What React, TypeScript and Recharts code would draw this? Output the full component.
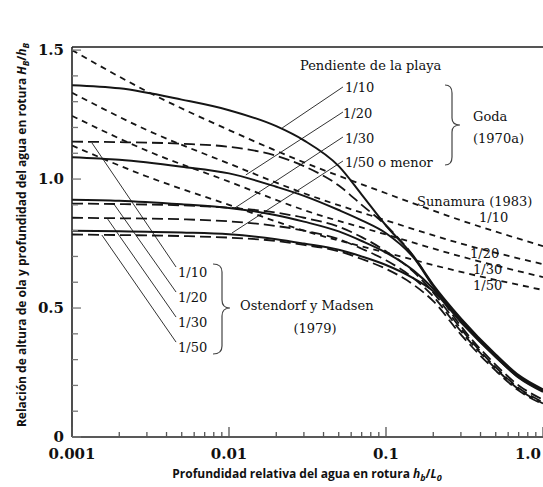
import { LineChart, Line, XAxis, YAxis, ReferenceLine } from 'recharts';

// eje x logarítmico h_b/L_0, eje y H_B/h_B
const X_TICKS = [
  0.001, 0.002, 0.003, 0.004, 0.005, 0.006, 0.007, 0.008, 0.009,
  0.01, 0.02, 0.03, 0.04, 0.05, 0.06, 0.07, 0.08, 0.09,
  0.1, 0.2, 0.3, 0.4, 0.5, 0.6, 0.7, 0.8, 0.9, 1.0,
];
const X_LABELS: Record<string, string> = { '0.001': '0.001', '0.01': '0.01', '0.1': '0.1', '1': '1.0' };
const Y_TICKS = [0, 0.1, 0.2, 0.3, 0.4, 0.5, 0.6, 0.7, 0.8, 0.9, 1.0, 1.1, 1.2, 1.3, 1.4, 1.5];
const Y_LABELS: Record<string, string> = { '0': '0', '0.5': '0.5', '1': '1.0', '1.5': '1.5' };
const Y_MAX = 1.512;

// Goda (1970a) — líneas continuas
const GODA_X = [0.001, 0.002, 0.005, 0.01, 0.02, 0.03, 0.05, 0.07, 0.1, 0.15, 0.2, 0.3, 0.5, 0.7, 1.0];
const GODA_10 = [1.364, 1.352, 1.308, 1.267, 1.205, 1.15, 1.05, 0.94, 0.82, 0.70, 0.59, 0.46, 0.32, 0.24, 0.185];
const GODA_20 = [1.085, 1.075, 1.048, 1.022, 0.97, 0.935, 0.88, 0.84, 0.79, 0.695, 0.585, 0.455, 0.315, 0.235, 0.18];
const GODA_30 = [0.92, 0.916, 0.902, 0.888, 0.86, 0.835, 0.797, 0.76, 0.715, 0.645, 0.575, 0.45, 0.31, 0.232, 0.178];
const GODA_50 = [0.80, 0.798, 0.793, 0.786, 0.767, 0.75, 0.726, 0.70, 0.667, 0.615, 0.565, 0.445, 0.31, 0.23, 0.175];

// Ostendorf y Madsen (1979) — trazo largo
const OST_X = GODA_X;
const OST_10 = [1.145, 1.143, 1.137, 1.125, 1.09, 1.05, 0.975, 0.90, 0.82, 0.70, 0.585, 0.43, 0.28, 0.20, 0.145];
const OST_20 = [0.905, 0.903, 0.898, 0.889, 0.87, 0.85, 0.815, 0.775, 0.72, 0.64, 0.56, 0.42, 0.27, 0.19, 0.135];
const OST_30 = [0.85, 0.848, 0.844, 0.836, 0.818, 0.80, 0.767, 0.73, 0.685, 0.615, 0.545, 0.41, 0.265, 0.185, 0.13];
const OST_50 = [0.785, 0.783, 0.779, 0.773, 0.76, 0.745, 0.72, 0.69, 0.652, 0.59, 0.527, 0.397, 0.257, 0.18, 0.127];

// Sunamura (1983) — trazo corto
const SUN_X = [0.001, 0.003, 0.01, 0.03, 0.1, 0.3, 1.0];
const SUN_10 = [1.50, 1.34, 1.19, 1.065, 0.945, 0.84, 0.74];
const SUN_20 = [1.335, 1.19, 1.06, 0.945, 0.84, 0.75, 0.67];
const SUN_30 = [1.245, 1.11, 0.99, 0.88, 0.785, 0.70, 0.62];
const SUN_50 = [1.13, 1.01, 0.90, 0.80, 0.715, 0.64, 0.57];

// líneas guía de las etiquetas [x1, y1, x2, y2]
const GODA_LEADERS = [
  [0.0532, 1.357, 0.0218, 1.198],
  [0.0532, 1.26, 0.0128, 1.016],
  [0.0532, 1.163, 0.0109, 0.888],
  [0.0532, 1.07, 0.01045, 0.791],
];
const OST_LEADERS = [
  [0.00134, 1.14, 0.0046, 0.659],
  [0.00183, 0.907, 0.0046, 0.562],
  [0.00167, 0.849, 0.0046, 0.465],
  [0.00155, 0.783, 0.0046, 0.368],
];

const pts = (xs: number[], ys: number[]) => xs.map((x, i) => ({ x, y: ys[i] }));

const SERIES = [
  { name: 'Goda 1/10', data: pts(GODA_X, GODA_10), dash: undefined, w: 2 },
  { name: 'Goda 1/20', data: pts(GODA_X, GODA_20), dash: undefined, w: 2 },
  { name: 'Goda 1/30', data: pts(GODA_X, GODA_30), dash: undefined, w: 2 },
  { name: 'Goda 1/50', data: pts(GODA_X, GODA_50), dash: undefined, w: 2 },
  { name: 'Ost 1/10', data: pts(OST_X, OST_10), dash: '11 5', w: 1.8 },
  { name: 'Ost 1/20', data: pts(OST_X, OST_20), dash: '11 5', w: 1.8 },
  { name: 'Ost 1/30', data: pts(OST_X, OST_30), dash: '11 5', w: 1.8 },
  { name: 'Ost 1/50', data: pts(OST_X, OST_50), dash: '11 5', w: 1.8 },
  { name: 'Sun 1/10', data: pts(SUN_X, SUN_10), dash: '6 5', w: 1.8 },
  { name: 'Sun 1/20', data: pts(SUN_X, SUN_20), dash: '6 5', w: 1.8 },
  { name: 'Sun 1/30', data: pts(SUN_X, SUN_30), dash: '6 5', w: 1.8 },
  { name: 'Sun 1/50', data: pts(SUN_X, SUN_50), dash: '6 5', w: 1.8 },
];

const SERIF = '"DejaVu Serif", serif';
const SANS = '"Open Sans", sans-serif';

function XTick({ x, y, payload }: any) {
  const v = payload.value;
  const lg = Math.log10(v);
  const major = Math.abs(lg - Math.round(lg)) < 1e-6;
  const label = X_LABELS[String(v)];
  const last = v === 1;
  return (
    <g>
      <line x1={x} x2={x} y1={y} y2={y - (major ? 10 : 5)} stroke="#555" strokeWidth={1.3} />
      {label && (
        <text x={last ? x - 2 : x} y={y + 22} textAnchor={last ? 'end' : 'middle'}
              fontFamily={SERIF} fontWeight="bold" fontSize={15} fill="#111">
          {label}
        </text>
      )}
    </g>
  );
}

function YTick({ x, y, payload }: any) {
  const v = payload.value;
  const major = Math.abs(v * 2 - Math.round(v * 2)) < 1e-6;
  const label = Y_LABELS[String(v)];
  return (
    <g>
      <line x1={x} x2={x + (major ? 9 : 6)} y1={y} y2={y} stroke="#777" strokeWidth={1.3} />
      {label && (
        <text x={x - 8} y={y + 5} textAnchor="end" fontFamily={SERIF} fontWeight="bold" fontSize={15} fill="#111">
          {label}
        </text>
      )}
    </g>
  );
}

function Annotations() {
  const t = { fontFamily: SERIF, fontSize: 13, fill: '#111' };
  return (
    <svg width={543} height={487} style={{ position: 'absolute', left: 0, top: 0, pointerEvents: 'none' }}>
      {/* Goda */}
      <text x={300} y={70} {...t}>Pendiente de la playa</text>
      <text x={345} y={92} {...t}>1/10</text>
      <text x={343} y={118} {...t}>1/20</text>
      <text x={345} y={143} {...t}>1/30</text>
      <text x={345} y={167} {...t}>1/50 o menor</text>
      <path d="M445 85 Q452 85 452 93 L452 118 Q452 125 460 125 Q452 125 452 132 L452 157 Q452 165 445 165"
            fill="none" stroke="#444" strokeWidth={1.2} />
      <text x={473} y={121} {...t}>Goda</text>
      <text x={473} y={143} {...t}>(1970a)</text>

      {/* Sunamura */}
      <text x={417} y={206} {...t}>Sunamura (1983)</text>
      <text x={479} y={222} {...t}>1/10</text>
      <text x={470} y={258} {...t}>1/20</text>
      <text x={473} y={274} {...t}>1/30</text>
      <text x={473} y={290} {...t}>1/50</text>

      {/* Ostendorf y Madsen */}
      <text x={178} y={277} {...t}>1/10</text>
      <text x={178} y={302} {...t}>1/20</text>
      <text x={178} y={327} {...t}>1/30</text>
      <text x={178} y={352} {...t}>1/50</text>
      <path d="M213 264 Q222 264 222 272 L222 300 Q222 308 230 308 Q222 308 222 316 L222 346 Q222 354 213 354"
            fill="none" stroke="#444" strokeWidth={1.2} />
      <text x={240} y={310} {...t}>Ostendorf y Madsen</text>
      <text x={315} y={333} textAnchor="middle" {...t}>(1979)</text>

      {/* títulos de ejes */}
      <text x={307} y={478} textAnchor="middle" fontFamily={SANS} fontWeight="bold" fontSize={12} fill="#111">
        Profundidad relativa del agua en rotura <tspan fontStyle="italic">h</tspan>
        <tspan fontStyle="italic" fontSize={9} dy={3}>b</tspan>
        <tspan dy={-3}>/</tspan>
        <tspan fontStyle="italic">L</tspan>
        <tspan fontStyle="italic" fontSize={9} dy={3}>0</tspan>
      </text>
      <text x={0} y={0} transform="translate(26 235) rotate(-90)" textAnchor="middle"
            fontFamily={SANS} fontWeight="bold" fontSize={12} fill="#111">
        Relación de altura de ola y profundidad del agua en rotura <tspan fontStyle="italic">H</tspan>
        <tspan fontStyle="italic" fontSize={9} dy={3}>B</tspan>
        <tspan dy={-3}>/</tspan>
        <tspan fontStyle="italic">h</tspan>
        <tspan fontStyle="italic" fontSize={9} dy={3}>B</tspan>
      </text>
    </svg>
  );
}

export default function App() {
  return (
    <div style={{ position: 'relative', width: 543, height: 487, background: '#fff' }}>
      <style>{'body{margin:0}'}</style>
      <LineChart width={543} height={487} margin={{ top: 47, right: 0, bottom: 0, left: 0 }}>
        <XAxis
          type="number" dataKey="x" scale="log" domain={[0.001, 1]} allowDataOverflow
          ticks={X_TICKS} interval={0} height={50} tickSize={0} tickMargin={0}
          tickLine={false} tick={<XTick />} axisLine={{ stroke: '#222', strokeWidth: 1.6 }}
        />
        <YAxis
          type="number" domain={[0, Y_MAX]} allowDataOverflow
          ticks={Y_TICKS} interval={0} width={72} tickSize={0} tickMargin={0}
          tickLine={false} tick={<YTick />} axisLine={{ stroke: '#222', strokeWidth: 1.6 }}
        />
        <ReferenceLine y={Y_MAX} stroke="#555" strokeWidth={2} />
        {GODA_LEADERS.concat(OST_LEADERS).map((s, i) => (
          <ReferenceLine key={'l' + i} segment={[{ x: s[0], y: s[1] }, { x: s[2], y: s[3] }]}
                         stroke="#333" strokeWidth={1} />
        ))}
        {SERIES.map((s) => (
          <Line key={s.name} data={s.data} dataKey="y" type="monotone" stroke="#151515"
                strokeWidth={s.w} strokeDasharray={s.dash} dot={false} activeDot={false}
                isAnimationActive={false} />
        ))}
      </LineChart>
      <Annotations />
    </div>
  );
}
